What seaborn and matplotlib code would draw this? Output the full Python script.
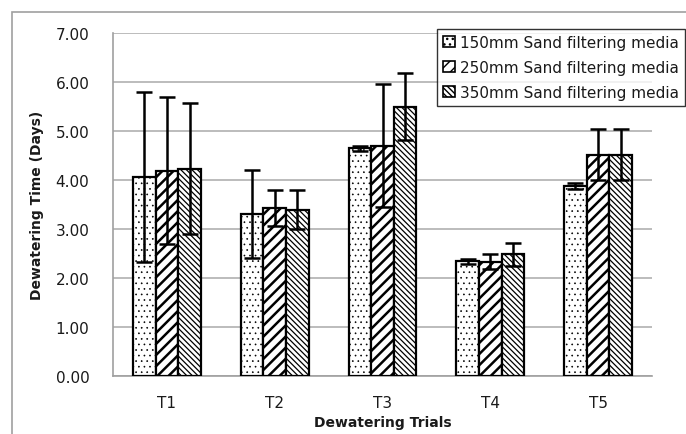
import matplotlib
matplotlib.use("Agg")
import matplotlib.pyplot as plt
import seaborn as sns
import pandas as pd
import numpy as np
from matplotlib.patches import Rectangle, Patch

trials = ["T1", "T2", "T3", "T4", "T5"]
media = ["150mm Sand filtering media", "250mm Sand filtering media", "350mm Sand filtering media"]
vals_150 = [4.06, 3.31, 4.65, 2.34, 3.88]
vals_250 = [4.19, 3.43, 4.70, 2.33, 4.52]
vals_350 = [4.23, 3.39, 5.50, 2.48, 4.52]
err_150 = [1.74, 0.90, 0.05, 0.05, 0.06]
err_250 = [1.50, 0.36, 1.25, 0.15, 0.52]
err_350 = [1.34, 0.40, 0.68, 0.24, 0.52]
y_ticks = [0, 1, 2, 3, 4, 5, 6, 7]

rows = []
for m, vals, errs in zip(media, [vals_150, vals_250, vals_350], [err_150, err_250, err_350]):
    for t, v, e in zip(trials, vals, errs):
        rows.append({"Trial": t, "Media": m, "Days": v, "Err": e})
df = pd.DataFrame(rows)

sns.set_theme(style="white")
plt.rcParams['font.family'] = ['DejaVu Sans']
plt.rcParams['hatch.linewidth'] = 1.0
plt.rcParams['text.color'] = '#1a1a1a'
plt.rcParams['xtick.color'] = '#1a1a1a'
plt.rcParams['ytick.color'] = '#1a1a1a'
plt.rcParams['axes.labelcolor'] = '#1a1a1a'

fig = plt.figure(figsize=(6.86, 4.35), dpi=100)
ax = fig.add_axes([113/686, 1 - 377/435, (652-113)/686, (377-34)/435])

sns.barplot(data=df, x="Trial", y="Days", hue="Media", order=trials, hue_order=media,
            width=0.63, errorbar=None, ax=ax, palette=["white"]*3,
            edgecolor="black", linewidth=1.6, legend=False, zorder=3)

hatches = ["...", "///", "\\\\\\\\\\\\"]
hatch_lw = [0.45, 1.8, 0.9]


def style_patch(p, i):
    p.set_hatch(hatches[i])
    p.set_facecolor("white")
    p.set_edgecolor("black")
    if hasattr(p, "set_hatch_linewidth"):
        p.set_hatch_linewidth(hatch_lw[i])


bar_containers = list(ax.containers)
for i, container in enumerate(bar_containers):
    errs = [err_150, err_250, err_350][i]
    xs, ys = [], []
    for bar in container:
        style_patch(bar, i)
        xs.append(bar.get_x() + bar.get_width() / 2)
        ys.append(bar.get_height())
    ax.errorbar(xs, ys, yerr=errs, fmt="none", ecolor="black", elinewidth=1.8,
                capsize=5.5, capthick=1.8, zorder=5)

ax.set_ylim(0, 7)
ax.set_xlim(-0.5, 4.5)
ax.set_yticks(y_ticks)
ax.set_yticklabels([f"{v:.2f}" for v in y_ticks], fontsize=11)
ax.tick_params(axis="x", length=0, labelsize=11, pad=14)
ax.tick_params(axis="y", length=7, width=1, color="#a0a0a0", direction="out", pad=10)
ax.yaxis.grid(True, color="#b0b0b0", linewidth=1.2, zorder=0)
ax.set_axisbelow(True)
for s in ["top", "right"]:
    ax.spines[s].set_visible(False)
for s in ["left", "bottom"]:
    ax.spines[s].set_color("#a0a0a0")
    ax.spines[s].set_linewidth(1.2)

ax.set_xlabel("Dewatering Trials", fontsize=10, fontweight="bold", labelpad=3)
ax.set_ylabel("Dewatering Time (Days)", fontsize=10, fontweight="bold", labelpad=8)

handles = []
for i in range(3):
    p = Patch(facecolor="white", edgecolor="black", linewidth=1.2)
    style_patch(p, i)
    handles.append(p)
leg = ax.legend(handles, media, loc="upper right", bbox_to_anchor=(685/686, 1 - 30/435),
                bbox_transform=fig.transFigure, fontsize=11, frameon=True,
                fancybox=False, edgecolor="black", handlelength=0.75, handleheight=0.75,
                handletextpad=0.35, labelspacing=0.65, borderpad=0.4, borderaxespad=0)
leg.get_frame().set_linewidth(1.0)

fig.patches.append(Rectangle((12/686, -0.5), 2, 0.5 + 1 - 13/435, transform=fig.transFigure,
                             fill=False, edgecolor="#a0a0a0", linewidth=1.2))

fig.savefig("out.png", dpi=100)
